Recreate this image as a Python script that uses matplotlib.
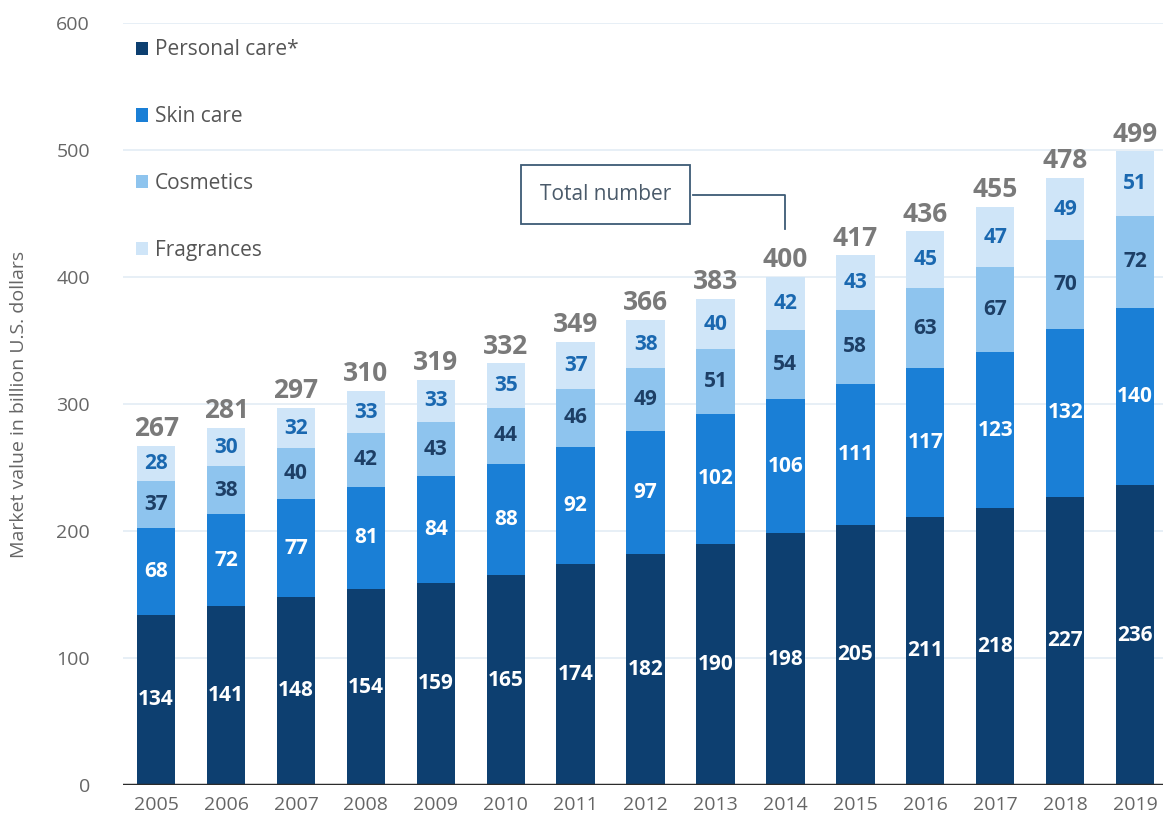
import numpy as np
import matplotlib.pyplot as plt

plt.rcParams['font.family'] = ['Open Sans', 'DejaVu Sans']

# Data (billion U.S. dollars)
years = ['2005', '2006', '2007', '2008', '2009', '2010', '2011', '2012',
         '2013', '2014', '2015', '2016', '2017', '2018', '2019']
personal_care = [134, 141, 148, 154, 159, 165, 174, 182, 190, 198, 205, 211, 218, 227, 236]
skin_care = [68, 72, 77, 81, 84, 88, 92, 97, 102, 106, 111, 117, 123, 132, 140]
cosmetics = [37, 38, 40, 42, 43, 44, 46, 49, 51, 54, 58, 63, 67, 70, 72]
fragrances = [28, 30, 32, 33, 33, 35, 37, 38, 40, 42, 43, 45, 47, 49, 51]
totals = [267, 281, 297, 310, 319, 332, 349, 366, 383, 400, 417, 436, 455, 478, 499]

series = [('Personal care*', personal_care, '#0d3f70', 'white'),
          ('Skin care', skin_care, '#1a7fd6', 'white'),
          ('Cosmetics', cosmetics, '#8ec4ee', '#1d3f66'),
          ('Fragrances', fragrances, '#cfe5f8', '#1a68b0')]

fig = plt.figure(figsize=(11.63, 8.27), dpi=100)
ax = fig.add_axes([0.106, 0.051, 0.894, 0.921])

x = np.arange(len(years))
w = 0.55
bottom = np.zeros(len(years))
for name, vals, col, tcol in series:
    vals = np.array(vals)
    ax.bar(x, vals, w, bottom=bottom, color=col, label=name, zorder=2)
    for xi, b, v in zip(x, bottom, vals):
        ax.text(xi, b + v / 2, str(v), ha='center', va='center', color=tcol,
                fontsize=15, fontweight='bold', zorder=3)
    bottom += vals

for xi, t, top in zip(x, totals, bottom):
    ax.text(xi, top + 3, str(t), ha='center', va='bottom', color='#7a7a7a',
            fontsize=19, fontweight='bold', zorder=3)

# "Total number" callout
ax.text(6.43, 465, 'Total number', ha='center', va='center', fontsize=15,
        color='#4a5a6a', zorder=4,
        bbox=dict(boxstyle='square,pad=0.9', fc='white', ec='#3d5a75', lw=1.3))
ax.plot([7.68, 9, 9], [465, 465, 438], color='#3d5a75', lw=1.3, zorder=4)

ax.set_xlim(-0.47, 14.4)
ax.set_ylim(0, 600)
ax.set_yticks(range(0, 601, 100))
ax.set_xticks(x)
ax.set_xticklabels(years)
ax.grid(axis='y', color='#e3ecf5', lw=1.2, zorder=0)
ax.axhline(0, color='#2b2b2b', lw=2.5, zorder=3)
for s in ax.spines.values():
    s.set_visible(False)
ax.tick_params(length=0, labelsize=14, colors='#666666', pad=8)
ax.tick_params(axis='y', pad=24)
ax.set_ylabel('Market value in billion U.S. dollars', fontsize=14,
              color='#666666', labelpad=20)

ax.legend(loc='upper left', bbox_to_anchor=(0.0, 0.995), frameon=False,
          fontsize=15, labelcolor='#555555', handlelength=0.6, handleheight=0.6,
          handletextpad=0.3, labelspacing=2.2, borderaxespad=0.2)

fig.savefig('out.png', dpi=100)
